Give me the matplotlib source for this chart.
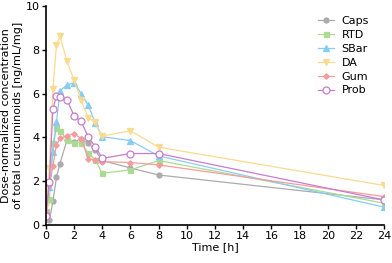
import numpy as np
import matplotlib.pyplot as plt

# --- data ---
t = [0, 0.25, 0.5, 0.75, 1, 1.5, 2, 2.5, 3, 3.5, 4, 6, 8, 24]

caps = [0.60, 0.20, 1.07, 2.18, 2.80, 3.88, 3.80, 3.93, 3.73, 3.42, 2.94, 2.60, 2.28, 1.14]
rtd  = [0.65, 1.19, 3.73, 4.41, 4.29, 3.88, 3.76, 3.76, 3.27, 2.97, 2.36, 2.51, 2.94, 0.99]
sbar = [0.70, 1.75, 3.33, 4.68, 6.13, 6.39, 6.50, 6.00, 5.47, 4.67, 4.03, 3.85, 3.15, 0.81]
da   = [0.84, 2.60, 6.20, 8.20, 8.63, 7.47, 6.60, 5.70, 4.90, 4.69, 4.06, 4.30, 3.55, 1.80]
gum  = [0.60, 1.83, 2.70, 3.65, 3.95, 4.08, 4.17, 3.94, 3.03, 2.97, 2.89, 2.85, 2.74, 1.29]
prob = [0.40, 1.98, 5.31, 5.89, 5.86, 5.71, 4.98, 4.73, 4.02, 3.58, 3.04, 3.26, 3.26, 1.14]

names = ['Caps', 'RTD', 'SBar', 'DA', 'Gum', 'Prob']
series = [caps, rtd, sbar, da, gum, prob]

styles = {
    'Caps': dict(color='#ababab', marker='o', ms=3.6, mfc='#ababab'),
    'RTD':  dict(color='#acda93', marker='s', ms=3.6, mfc='#acda93'),
    'SBar': dict(color='#87cdf2', marker='^', ms=3.8, mfc='#87cdf2'),
    'DA':   dict(color='#f9da8e', marker='v', ms=3.8, mfc='#f9da8e'),
    'Gum':  dict(color='#f59c9c', marker='D', ms=2.8, mfc='#f59c9c'),
    'Prob': dict(color='#c77ccf', marker='o', ms=5, mfc='white'),
}

fig = plt.figure(figsize=(3.92, 2.63), dpi=100)
ax = fig.add_axes([0.117, 0.145, 0.863, 0.832])

for name, vals in zip(names, series):
    s = styles[name]
    ax.plot(t, vals, '-', lw=0.9, color=s['color'], marker=s['marker'],
            ms=s['ms'], mfc=s['mfc'], mec=s['color'], mew=0.9, label=name)

ax.set_xlim(0, 24)
ax.set_ylim(0, 10)
ax.set_xticks(np.arange(0, 25, 2))
ax.set_yticks(np.arange(0, 11, 2))
ax.tick_params(axis='both', labelsize=8, width=1, length=3, pad=1.5)
for sp in ['top', 'right']:
    ax.spines[sp].set_visible(False)
for sp in ['left', 'bottom']:
    ax.spines[sp].set_linewidth(1.2)

ax.set_xlabel('Time [h]', fontsize=8, labelpad=1)
ax.set_ylabel('Dose-normalized concentration\nof total curcuminoids [ng/mL/mg]',
              fontsize=8, labelpad=2)

ax.legend(loc='upper right', bbox_to_anchor=(0.985, 1.0), frameon=False,
          fontsize=8, handlelength=1.4, labelspacing=0.35, handletextpad=0.7)

plt.savefig('out.png', dpi=100)
